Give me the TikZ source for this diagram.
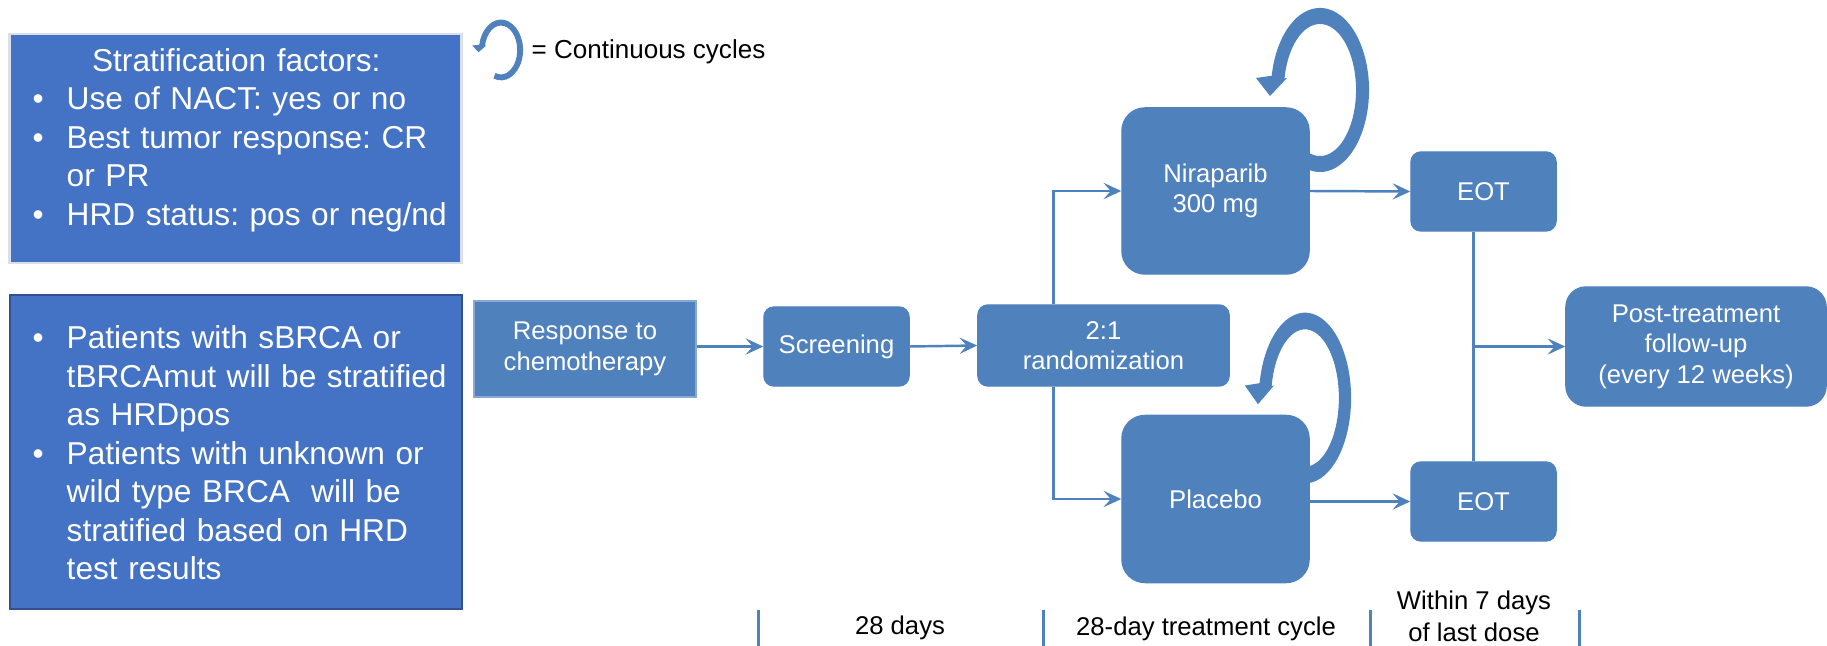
\documentclass[tikz,border=0pt]{standalone}
\usepackage{fontspec}
\setmainfont{Liberation Sans}
\usetikzlibrary{arrows.meta}
\frenchspacing

\definecolor{flowblue}{HTML}{4F81BD}
\definecolor{listblue}{HTML}{4472C4}
\definecolor{listedge}{HTML}{DADFE8}
\definecolor{darkedge}{HTML}{2F528F}
\definecolor{respedge}{HTML}{8AA8D4}

\newcommand{\bul}{\makebox[0.34cm][l]{\textbullet}}

\begin{document}
\begin{tikzpicture}[x=0.01cm, y=0.01cm,
    box/.style={fill=flowblue, draw=flowblue, text=white, align=center, inner sep=0pt,
        font=\fontsize{7.3}{8.7}\selectfont, rounded corners=0.1cm},
    flow/.style={draw=flowblue, line width=0.7pt, -{Stealth[length=5pt, width=4.6pt, inset=2pt]}},
    link/.style={draw=flowblue, line width=0.7pt},
    listtext/.style={text=white, align=left, inner sep=0pt, font=\fontsize{9}{10.95}\selectfont},
    note/.style={align=center, inner sep=0pt, font=\fontsize{7.3}{9.1}\selectfont}]
                    {
    \useasboundingbox (0,0) rectangle (1827,-646);

    \def\cycleloop{(-110:0.49cm and 0.82cm)
        arc[start angle=-110, end angle=170, x radius=0.49cm, y radius=0.82cm]
        -- (-64,12) -- (-50,-6) -- (-33,12) -- (170:0.36cm and 0.66cm)
        arc[start angle=170, end angle=-110, x radius=0.36cm, y radius=0.66cm] -- cycle}

    % cycle arrows
    \begin{scope}[shift={(501,-50)}, xscale=0.45, yscale=0.37]
        \fill[flowblue] \cycleloop;
    \end{scope}
    \begin{scope}[shift={(1320,-90)}]
        \fill[flowblue] \cycleloop;
    \end{scope}
    \begin{scope}[shift={(1305,-398)}, xscale=0.94, yscale=1.04]
        \fill[flowblue] \cycleloop;
    \end{scope}

    \node[note, anchor=west, font=\fontsize{7.4}{9}\selectfont] (legend) at (531,-52) {= Continuous cycles};

    % left panels
    \node[fill=listblue, draw=listedge, line width=0.8pt, minimum width=4.51cm, minimum height=2.29cm] (strat) at (235.5,-148.5) {};
    \node[listtext, text width=4.2cm, anchor=west] (stratlist) at (32,-140)
        {\makebox[4.07cm][c]{Stratification factors:}\\
         \bul Use of NACT: yes or no\\
         \bul Best tumor response: CR\\
         \hspace*{0.34cm}or PR\\
         \bul HRD status: pos or neg/nd};

    \node[fill=listblue, draw=darkedge, line width=0.6pt, minimum width=4.52cm, minimum height=3.14cm] (hrd) at (236,-452) {};
    \node[listtext, text width=4.2cm, anchor=west] (hrdlist) at (32,-453)
        {\bul Patients with sBRCA or\\
         \hspace*{0.34cm}tBRCAmut will be stratified\\
         \hspace*{0.34cm}as HRDpos\\
         \bul Patients with unknown or\\
         \hspace*{0.34cm}wild type BRCA\ \ will be\\
         \hspace*{0.34cm}stratified based on HRD\\
         \hspace*{0.34cm}test results};

    % flow
    \node[box, rounded corners=0pt, draw=respedge, minimum width=2.22cm, minimum height=0.96cm] (resp) at (585,-349) {Response to\\chemotherapy};
    \node[box, minimum width=1.45cm, minimum height=0.79cm] (screen) at (836.5,-346.5) {Screening};
    \node[box, minimum width=2.51cm, minimum height=0.81cm] (rand) at (1103.5,-345.5) {2:1\\randomization};
    \node[box, rounded corners=0.23cm, minimum width=1.87cm, minimum height=1.66cm] (nira) at (1215.5,-191) {Niraparib\\300 mg};
    \node[box, rounded corners=0.23cm, minimum width=1.87cm, minimum height=1.67cm] (plac) at (1215.5,-499) {Placebo};
    \node[box, minimum width=1.45cm, minimum height=0.79cm] (eottop) at (1483.5,-191.5) {EOT};
    \node[box, minimum width=1.45cm, minimum height=0.79cm] (eotbot) at (1483.5,-501.5) {EOT};
    \node[box, rounded corners=0.2cm, minimum width=2.6cm, minimum height=1.19cm] (post) at (1696,-346.5) {Post-treatment\\follow-up\\(every 12 weeks)};

    \draw[flow] (resp.east |- screen.west) -- (screen.west);
    \draw[flow] (screen.east) -- (rand.west);
    \draw[flow] ([xshift=-0.5cm]rand.north) |- (nira.west);
    \draw[flow] ([xshift=-0.5cm]rand.south) |- (plac.west);
    \draw[flow] (nira.east) -- (eottop.west);
    \draw[flow] (plac.east |- eotbot.west) -- (eotbot.west);
    \coordinate (eotline) at ([xshift=-0.1cm]eottop.south);
    \draw[link] (eotline) -- (eotline |- eotbot.north);
    \draw[flow] (eotline |- post.west) -- (post.west);

    % timeline
    \coordinate (t1) at (758,-610);
    \coordinate (t2) at (1043,-610);
    \coordinate (t3) at (1370,-610);
    \coordinate (t4) at (1579,-610);
    \foreach \t in {t1,t2,t3,t4}
        \draw[flowblue, line width=0.85pt] (\t) -- ++(0,-36);

    \node[note] (screendays) at (900,-628) {28 days};
    \node[note] (cycledays) at (1206,-629) {28-day treatment cycle};
    \node[note] (eotdays) at (1474,-616) {Within 7 days\\of last dose};
}
\end{tikzpicture}
\end{document}
